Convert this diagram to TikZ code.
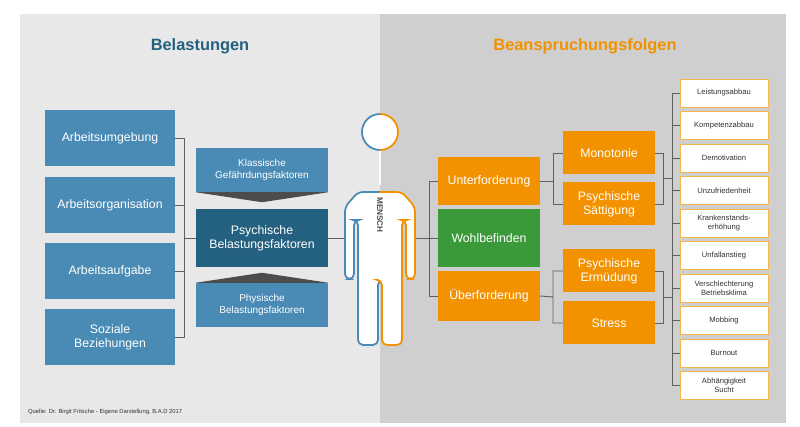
\documentclass[tikz,border=0pt]{standalone}
\usepackage{fontspec}
\setmainfont{Liberation Sans}
\usetikzlibrary{positioning}
\definecolor{blau}{HTML}{4A8BB6}
\definecolor{dunkelblau}{HTML}{24607F}
\definecolor{orange}{HTML}{F39200}
\definecolor{gruen}{HTML}{3A9A3A}
\colorlet{links}{gray!18}
\colorlet{rechts}{gray!38}
\colorlet{linie}{gray!75!black}
\tikzset{box/.style={draw=none, text=white, align=center, inner sep=0pt, font=\fontsize{10.5}{12}\selectfont},
    blaubox/.style={box, fill=blau, minimum width=130*0.03cm, minimum height=56*0.03cm},
    mittebox/.style={box, fill=blau, minimum width=132*0.03cm, minimum height=44*0.03cm, font=\fontsize{8.5}{10}\selectfont},
    orangebox/.style={box, fill=orange, minimum width=102*0.03cm, minimum height=48*0.03cm},
    folgebox/.style={box, fill=orange, minimum width=92*0.03cm, minimum height=43*0.03cm},
    weissbox/.style={box, fill=white, draw=orange!70, thick, text=black!80, minimum width=88*0.03cm, minimum height=28*0.03cm, font=\fontsize{6.5}{7.5}\selectfont},
    klammer/.style={draw=linie, thick}}

\begin{document}
\begin{tikzpicture}[x=0.03cm,y=-0.03cm]
\useasboundingbox (0,0) rectangle (800,427);
\fill[links] (20,14) rectangle (380,423);
\fill[rechts] (380,14) rectangle (786,423);
\node[text=dunkelblau, font=\bfseries\fontsize{14}{16}\selectfont] (t1) at (200,46) {Belastungen};
\node[text=orange, font=\bfseries\fontsize{14}{16}\selectfont] (t2) at (585,46) {Beanspruchungsfolgen};
\node[anchor=west, font=\fontsize{5}{6}\selectfont, text=black!80] (quelle) at (24,412) {Quelle: Dr. Birgit Fritsche - Eigene Darstellung, B.A.D 2017};
% Belastungen
\node[blaubox] (umg) at (110,138) {Arbeitsumgebung};
\node[blaubox] (org) at (110,205) {Arbeitsorganisation};
\node[blaubox] (auf) at (110,271) {Arbeitsaufgabe};
\node[blaubox] (soz) at (110,337) {Soziale\\Beziehungen};
\node[mittebox] (klass) at (262,170) {Klassische\\Gefährdungsfaktoren};
\node[mittebox, fill=dunkelblau, minimum height=58*0.03cm, font=\fontsize{10.5}{12}\selectfont] (psy) at (262,238) {Psychische\\Belastungsfaktoren};
\node[mittebox] (phys) at (262,305) {Physische\\Belastungsfaktoren};
\fill[gray!60!black] (klass.south west) -- (klass.south east) -- ([yshift=-10*0.03cm]klass.south) -- cycle;
\fill[gray!60!black] (phys.north west) -- (phys.north east) -- ([yshift=10*0.03cm]phys.north) -- cycle;
\coordinate (k1) at (184,238);
\draw[klammer] (umg.east) -| (k1) (soz.east) -| (k1);
\draw[klammer] (org.east) -- (org.east -| k1) (auf.east) -- (auf.east -| k1);
\draw[klammer] (k1) -- (psy.west);
% Mensch
\coordinate (ml) at (345,238);
\coordinate (mr) at (416,238);
\draw[klammer] (psy.east) -- (ml);
\foreach \s/\f in {1/blau, -1/orange} {
  \begin{scope}[xshift=380*0.03cm, xscale=\s]
    \draw[\f, line width=1.5pt, fill=white, rounded corners=5*0.03cm] (0,192) -- (-22,192) -- (-35,207) -- (-35,279) -- (-26,279) -- (-26,220) -- (-22,220) -- (-22,345) -- (-2,345) -- (-2,280) -- (0,280);
    \draw[\f, line width=1.5pt, fill=white] (0,150) arc (90:270:18);
  \end{scope}
}
\fill[white] (379.2,193) rectangle (380.8,280) (379.2,151) rectangle (380.8,185);
\node[rotate=-90, font=\bfseries\fontsize{7}{8}\selectfont, text=black!70] (mensch) at (380,215) {MENSCH};
% Beanspruchungsfolgen
\node[orangebox] (unter) at (489,181) {Unterforderung};
\node[orangebox, fill=gruen, minimum height=58*0.03cm] (wohl) at (489,238) {Wohlbefinden};
\node[orangebox, minimum height=50*0.03cm] (ueber) at (489,296) {Überforderung};
\coordinate (k2) at (429,238);
\draw[klammer] (mr) -- (k2) (k2) |- (unter.west) (k2) |- (ueber.west) (k2) -- (wohl.west);
\node[folgebox] (mono) at (609,153) {Monotonie};
\node[folgebox] (saett) at (609,204) {Psychische\\Sättigung};
\node[folgebox] (ermued) at (609,271) {Psychische\\Ermüdung};
\node[folgebox] (stress) at (609,323) {Stress};
\coordinate (k3) at (553,181);
\coordinate (k4) at (553,297);
\draw[klammer] (unter.east) -- (k3) (k3) |- (mono.west) (k3) |- (saett.west);
\draw[klammer] (ueber.east) -- (k4) (k4) |- (ermued.west) (k4) |- (stress.west);
\coordinate (k5) at (663,178);
\coordinate (k6) at (663,297);
\draw[klammer] (mono.east) -| (k5) (saett.east) -| (k5);
\draw[klammer] (ermued.east) -| (k6) (stress.east) -| (k6);
\coordinate (k7) at (672,178);
\draw[klammer] (k5) -- (k7) (k6) -- (k6 -| k7);
\foreach \t [count=\i] in {Leistungsabbau, Kompetenzabbau, Demotivation, Unzufriedenheit, {Krankenstands-\\erhöhung}, Unfallanstieg, {Verschlechterung\\Betriebsklima}, Mobbing, Burnout, {Abhängigkeit\\Sucht}} {
  \node[weissbox] (f\i) at (724,{93+(\i-1)*32.5}) {\t};
  \draw[klammer] (f\i.west) -- ++(-8,0);
}
\draw[klammer] (f1.west -| k7) -- (f10.west -| k7);
\end{tikzpicture}
\end{document}
